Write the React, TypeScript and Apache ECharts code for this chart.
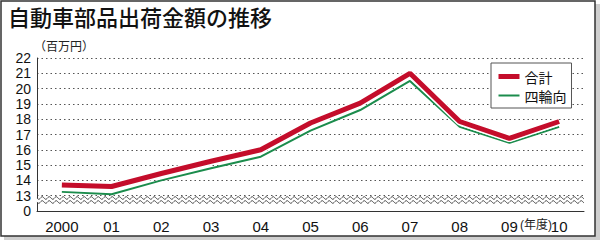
import React, { useEffect, useRef } from "react";
import * as echarts from "echarts";

const years = ["2000", "01", "02", "03", "04", "05", "06", "07", "08", "09", "10"];
const totalValues = [13.7, 13.6, 14.45, 15.25, 16.0, 17.75, 19.05, 21.0, 17.85, 16.75, 17.85];
const fourWheelValues = [13.25, 13.1, 14.0, 14.8, 15.55, 17.25, 18.6, 20.5, 17.5, 16.45, 17.5];
const seriesNames = ["合計", "四輪向"];
const yMin = 12;
const yMax = 22;
const breakValue = 12.72;
const titleText = "自動車部品出荷金額の推移";
const unitText = "（百万円）";
const yearUnitText = "(年度)";

const CJK = '"Noto Sans CJK JP", "Noto Sans CJK SC", sans-serif';
const LAT = '"Liberation Sans", Arial, "Noto Sans CJK JP", sans-serif';

export default function App() {
  const ref = useRef<HTMLDivElement>(null);
  useEffect(() => {
    if (!ref.current) return;
    const chart = echarts.init(ref.current, null, { renderer: "svg" });
    const option: any = {
      animation: false,
      grid: { left: 37, right: 16, top: 58, bottom: 29, containLabel: false },
      graphic: [
        { type: "rect", z: -20, shape: { x: 4, y: 4, width: 596, height: 236 }, style: { fill: "#cfcfcf" } },
        { type: "rect", z: -10, shape: { x: 1, y: 1, width: 594, height: 235 }, style: { fill: "#fff", stroke: "#333", lineWidth: 1.5 } },
        { type: "text", left: 8, top: 5, style: { text: titleText, font: `500 22px ${CJK}`, fill: "#111" } },
        { type: "text", left: 34, top: 39, style: { text: unitText, font: `12px ${CJK}`, fill: "#222" } },
        { type: "text", left: 520, top: 219, style: { text: yearUnitText, font: `12px ${LAT}`, fill: "#222" } },
      ],
      legend: {
        orient: "vertical",
        left: 491,
        top: 63,
        padding: [6, 5, 5, 5],
        itemGap: 4,
        itemWidth: 21,
        itemHeight: 14,
        backgroundColor: "#fff",
        borderColor: "#555",
        borderWidth: 1,
        borderRadius: 0,
        textStyle: { fontFamily: CJK, fontSize: 14, lineHeight: 15, color: "#111" },
        itemStyle: { opacity: 0, color: "rgba(0,0,0,0)", borderWidth: 0 },
        data: [
          { name: seriesNames[0], lineStyle: { width: 5, opacity: 1 } },
          { name: seriesNames[1], lineStyle: { width: 2, opacity: 1 } },
        ],
        z: 6,
      },
      xAxis: {
        type: "category",
        data: years,
        boundaryGap: true,
        z: 3,
        axisLine: { lineStyle: { color: "#333", width: 1 } },
        axisTick: { inside: true, alignWithLabel: true, length: 10, lineStyle: { color: "#333" } },
        axisLabel: {
          interval: 0,
          margin: 8,
          fontSize: 15,
          fontFamily: LAT,
          color: "#111",
        },
      },
      yAxis: {
        type: "value",
        min: yMin,
        max: yMax,
        interval: 1,
        axisLine: { show: true, lineStyle: { color: "#333", width: 1 } },
        axisTick: { show: false },
        axisLabel: {
          margin: 6,
          fontSize: 14,
          fontFamily: LAT,
          color: "#111",
          formatter: (v: number) => (v === yMin ? "0" : String(v)),
        },
        splitLine: { show: true, lineStyle: { color: "#555", width: 1, type: [1.5, 3] } },
      },
      series: [
        {
          type: "custom",
          silent: true,
          z: 1,
          data: [[0, breakValue]],
          renderItem: (params: any, api: any) => {
            const cs = params.coordSys;
            const cy = api.coord([0, breakValue])[1];
            const x0 = cs.x;
            const x1 = cs.x + cs.width;
            const upper: number[][] = [];
            const lower: number[][] = [];
            for (let x = x0; x <= x1 + 0.01; x += 0.5) {
              const dy = 1.3 * Math.sin(((x - x0) / 7) * 2 * Math.PI);
              upper.push([x, cy - 2 + dy]);
              lower.push([x, cy + 2 + dy]);
            }
            return {
              type: "group",
              children: [
                { type: "polygon", shape: { points: [...upper, ...lower.slice().reverse()] }, style: { fill: "#fff" } },
                { type: "polyline", shape: { points: upper }, style: { stroke: "#444", lineWidth: 1, fill: null } },
                { type: "polyline", shape: { points: lower }, style: { stroke: "#444", lineWidth: 1, fill: null } },
              ],
            };
          },
        },
        {
          name: seriesNames[1],
          type: "line",
          data: fourWheelValues,
          symbol: "none",
          z: 3,
          lineStyle: { color: "#1b8c4c", width: 2 },
          itemStyle: { color: "#1b8c4c" },
        },
        {
          name: "border",
          type: "line",
          data: totalValues,
          symbol: "none",
          z: 4,
          silent: true,
          lineStyle: { color: "#fff", width: 8 },
          itemStyle: { color: "#fff" },
        },
        {
          name: seriesNames[0],
          type: "line",
          data: totalValues,
          symbol: "none",
          z: 5,
          lineStyle: { color: "#c40d2b", width: 5 },
          itemStyle: { color: "#c40d2b" },
        },
      ],
    };
    chart.setOption(option);
    return () => chart.dispose();
  }, []);
  return (
    <div
      ref={ref}
      style={{ position: "absolute", left: 0, top: 0, width: 600, height: 240 }}
    />
  );
}
